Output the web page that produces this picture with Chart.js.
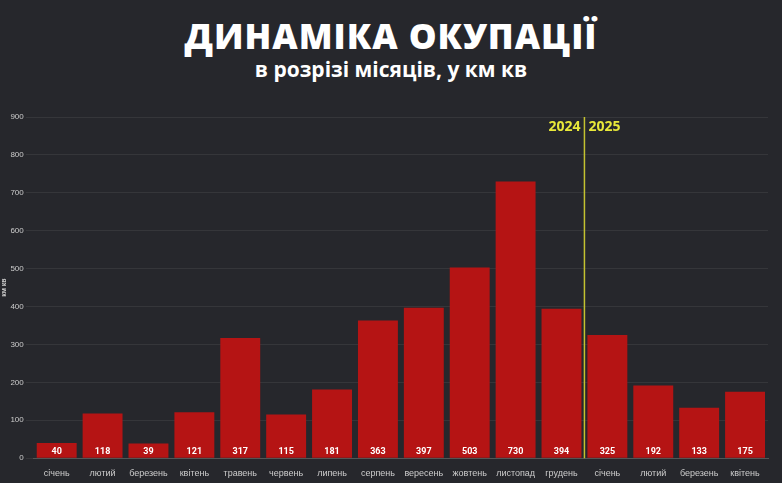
<!DOCTYPE html>
<html><head><meta charset="utf-8">
<script src="https://cdn.jsdelivr.net/npm/chart.js@4"></script>
<style>
body{margin:0;background:#26272c;width:782px;height:483px;overflow:hidden;font-family:Roboto,sans-serif}
#t{position:absolute;top:12px;left:0;width:782px;text-align:center;color:#fff;font:800 35px "Open Sans",sans-serif;letter-spacing:1px}
#s{position:absolute;top:55px;left:0;width:782px;text-align:center;color:#fff;font:700 21px "Open Sans",sans-serif}
#w{position:absolute;left:0;top:100px;width:782px;height:383px}
</style></head><body>
<div id="t">ДИНАМІКА ОКУПАЦІЇ</div>
<div id="s">в розрізі місяців, у км кв</div>
<div id="w"><canvas id="c"></canvas></div>
<script>
const months = ['січень','лютий','березень','квітень','травень','червень','липень','серпень','вересень','жовтень','листопад','грудень','січень','лютий','березень','квітень'];
const values = [40,118,39,121,317,115,181,363,397,503,730,394,325,192,133,175];
const yTicks = [0,100,200,300,400,500,600,700,800,900];

// підписи значень у барах + роздільник 2024/2025
const overlay = {
  id: 'overlay',
  afterDatasetsDraw(chart) {
    const ctx = chart.ctx, meta = chart.getDatasetMeta(0), y = chart.scales.y;
    ctx.save();
    ctx.fillStyle = '#fff';
    ctx.font = 'bold 9px Roboto';
    ctx.textAlign = 'center';
    meta.data.forEach((b, i) => ctx.fillText(values[i], b.x, y.getPixelForValue(0) - 4));
    const xs = (meta.data[11].x + meta.data[12].x) / 2;
    ctx.strokeStyle = '#c4c230';
    ctx.lineWidth = 1.5;
    ctx.beginPath(); ctx.moveTo(xs, y.getPixelForValue(900)); ctx.lineTo(xs, y.getPixelForValue(0)); ctx.stroke();
    ctx.fillStyle = '#e8e83a';
    ctx.font = 'bold 14px "Open Sans"';
    ctx.textAlign = 'right'; ctx.fillText('2024', xs - 4, y.getPixelForValue(900) + 14);
    ctx.textAlign = 'left'; ctx.fillText('2025', xs + 4, y.getPixelForValue(900) + 14);
    ctx.restore();
  }
};

new Chart(document.getElementById('c'), {
  type: 'bar',
  data: { labels: months, datasets: [{ data: values, backgroundColor: '#b51414', barPercentage: 0.87, categoryPercentage: 1 }] },
  options: {
    responsive: true, maintainAspectRatio: false, animation: false,
    layout: { padding: { top: 17, right: 14, left: 0, bottom: 2 } },
    plugins: { legend: { display: false }, tooltip: { enabled: false } },
    scales: {
      x: { grid: { display: false }, border: { color: '#555' }, ticks: { color: '#ccc', font: { size: 9 }, maxRotation: 0, padding: 2 } },
      y: { min: 0, max: 900, afterBuildTicks: s => { s.ticks = yTicks.map(v => ({ value: v })); },
           grid: { color: 'rgba(255,255,255,0.07)' }, border: { display: false },
           ticks: { color: '#ccc', font: { size: 8 }, padding: 2 },
           title: { display: true, text: 'км кв', color: '#ccc', font: { size: 7, weight: 'bold' }, padding: 0 } }
    }
  },
  plugins: [overlay]
});
</script>
</body></html>
